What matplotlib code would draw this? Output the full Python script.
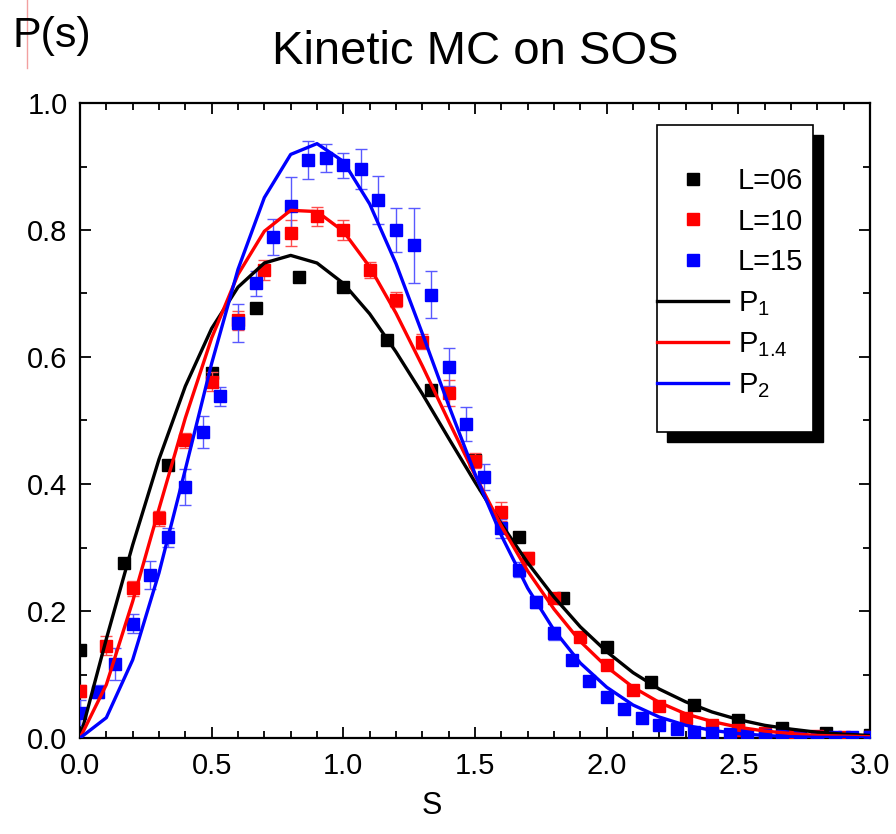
import matplotlib
matplotlib.use("Agg")
import matplotlib.pyplot as plt
from matplotlib.lines import Line2D
from matplotlib.patches import Rectangle
from matplotlib.ticker import MultipleLocator

plt.rcParams["font.family"] = ["Liberation Sans", "DejaVu Sans"]
plt.rcParams["mathtext.fontset"] = "custom"
plt.rcParams["mathtext.rm"] = "Liberation Sans"

# --- data ---
# L=06: s = k/6
s_l06 = [k / 6 for k in range(19)]
p_l06 = [0.139, 0.276, 0.430, 0.575, 0.677, 0.726, 0.710, 0.627, 0.548, 0.438,
         0.317, 0.220, 0.143, 0.088, 0.052, 0.028, 0.015, 0.008, 0.004]

# L=10: s = k/10
s_l10 = [k / 10 for k in range(31)]
p_l10 = [0.074, 0.145, 0.236, 0.346, 0.469, 0.561, 0.658, 0.737, 0.795, 0.822,
         0.800, 0.737, 0.690, 0.624, 0.543, 0.437, 0.356, 0.283, 0.220, 0.159,
         0.115, 0.076, 0.050, 0.032, 0.020, 0.013, 0.008, 0.005, 0.003, 0.002,
         0.001]
err_l10 = [0.010, 0.015, 0.012, 0.012, 0.012, 0.015, 0.015, 0.015, 0.020, 0.015,
           0.015, 0.012, 0.012, 0.012, 0.020, 0.012, 0.015, 0.010, 0.008, 0.006,
           0.005, 0.004, 0.003, 0.002, 0.002, 0.001, 0.001, 0.001, 0.001, 0.001,
           0.001]

# L=15: s = k/15
s_l15 = [k / 15 for k in range(46)]
p_l15 = [0.040, 0.073, 0.117, 0.180, 0.257, 0.316, 0.395, 0.482, 0.538, 0.653,
         0.716, 0.789, 0.838, 0.910, 0.913, 0.902, 0.896, 0.847, 0.800, 0.776,
         0.698, 0.584, 0.494, 0.411, 0.330, 0.265, 0.214, 0.165, 0.123, 0.089,
         0.064, 0.046, 0.031, 0.020, 0.014, 0.010, 0.008, 0.006, 0.005, 0.004,
         0.003, 0.002, 0.002, 0.001, 0.001, 0.001]
err_l15 = [0.020, 0.010, 0.025, 0.015, 0.022, 0.015, 0.028, 0.025, 0.015, 0.030,
           0.020, 0.028, 0.045, 0.030, 0.022, 0.020, 0.031, 0.038, 0.035, 0.059,
           0.037, 0.030, 0.027, 0.020, 0.015, 0.012, 0.010, 0.010, 0.008, 0.006,
           0.005, 0.004, 0.003, 0.002, 0.002, 0.001, 0.001, 0.001, 0.001, 0.001,
           0.001, 0.001, 0.001, 0.001, 0.001, 0.001]

# theory curves, sampled every 0.1
s_curve = [k / 10 for k in range(31)]
p1 = [0.0, 0.156, 0.304, 0.439, 0.554, 0.645, 0.710, 0.748, 0.760, 0.748,
      0.716, 0.668, 0.608, 0.542, 0.472, 0.403, 0.337, 0.276, 0.222, 0.175,
      0.136, 0.103, 0.077, 0.057, 0.041, 0.029, 0.020, 0.014, 0.009, 0.006,
      0.004]
p14 = [0.0, 0.084, 0.215, 0.361, 0.504, 0.630, 0.730, 0.798, 0.831, 0.829,
       0.798, 0.742, 0.669, 0.586, 0.499, 0.414, 0.334, 0.263, 0.203, 0.152,
       0.112, 0.080, 0.056, 0.038, 0.026, 0.017, 0.011, 0.007, 0.004, 0.003,
       0.002]
p2 = [0.0, 0.032, 0.123, 0.260, 0.423, 0.590, 0.738, 0.851, 0.919, 0.936,
      0.908, 0.841, 0.747, 0.637, 0.524, 0.416, 0.319, 0.236, 0.170, 0.118,
      0.080, 0.052, 0.033, 0.020, 0.012, 0.007, 0.004, 0.002, 0.001, 0.001,
      0.000]

fig = plt.figure(figsize=(8.96, 8.34), dpi=100)
ax = fig.add_axes([80 / 896, 1 - 738 / 834, 790 / 896, 635 / 834])

ax.plot(s_l06, p_l06, "s", color="black", markersize=9, zorder=3)
ax.errorbar(s_l10, p_l10, yerr=err_l10, fmt="s", color="red", markersize=9,
            ecolor=(1, 0.3, 0.3), elinewidth=1, capsize=4.5, zorder=3)
ax.errorbar(s_l15, p_l15, yerr=err_l15, fmt="s", color="blue", markersize=9,
            ecolor=(0.35, 0.35, 1), elinewidth=1, capsize=4.5, zorder=3)

ax.plot(s_curve, p1, color="black", lw=2.4, zorder=4)
ax.plot(s_curve, p14, color="red", lw=2.4, zorder=4)
ax.plot(s_curve, p2, color="blue", lw=2.4, zorder=4)

ax.set_xlim(0, 3.0)
ax.set_ylim(0, 1.0)
ax.xaxis.set_major_locator(MultipleLocator(0.5))
ax.xaxis.set_minor_locator(MultipleLocator(0.1))
ax.yaxis.set_major_locator(MultipleLocator(0.2))
ax.yaxis.set_minor_locator(MultipleLocator(0.1))
ax.set_xticklabels([f"{v:.1f}" for v in ax.get_xticks()])
ax.set_yticklabels([f"{v:.1f}" for v in ax.get_yticks()])
ax.tick_params(which="both", direction="in", top=True, right=True,
               labelsize=21, width=1.3)
ax.tick_params(which="major", length=8)
ax.tick_params(which="minor", length=5)
ax.tick_params(axis="x", pad=10)
ax.tick_params(axis="y", pad=9)
for sp in ax.spines.values():
    sp.set_linewidth(1.6)

# legend with a solid black drop shadow
handles = [
    Line2D([], [], ls="none", marker="s", color="black", markersize=9),
    Line2D([], [], ls="none", marker="s", color="red", markersize=9),
    Line2D([], [], ls="none", marker="s", color="blue", markersize=9),
    Line2D([], [], color="black", lw=2.4),
    Line2D([], [], color="red", lw=2.4),
    Line2D([], [], color="blue", lw=2.4),
]
labels = ["L=06", "L=10", "L=15", r"$\mathregular{P_{1}}$",
          r"$\mathregular{P_{1.4}}$", r"$\mathregular{P_{2}}$"]
ax.legend(handles, labels, loc="upper left", bbox_to_anchor=(0.7304, 0.899),
          frameon=False, borderpad=0, borderaxespad=0, handlelength=2.45,
          handletextpad=0.33, labelspacing=0.43, fontsize=21)

bx0, bx1 = (657 - 80) / 790, (813 - 80) / 790
by0, by1 = (738 - 432) / 635, (738 - 125) / 635
dx, dy = 10 / 790, 10 / 635
ax.add_patch(Rectangle((bx0 + dx, by0 - dy), bx1 - bx0, by1 - by0,
                       transform=ax.transAxes, facecolor="black",
                       edgecolor="black", zorder=4.5, clip_on=False))
ax.add_patch(Rectangle((bx0, by0), bx1 - bx0, by1 - by0,
                       transform=ax.transAxes, facecolor="white",
                       edgecolor="black", lw=1.2, zorder=4.6, clip_on=False))

fig.text(475 / 896, 1 - 52 / 834, "Kinetic MC on SOS", ha="center",
         va="center", fontsize=34)
fig.text(12 / 896, 1 - 36 / 834, "P(s)", ha="left", va="center", fontsize=31)
fig.text(432 / 896, 1 - 806 / 834, "S", ha="center", va="center", fontsize=22)
fig.add_artist(Line2D([27 / 896, 27 / 896], [1, 1 - 68 / 834],
                      color="#f2a0a0", lw=1))

fig.savefig("out.png", dpi=100)
